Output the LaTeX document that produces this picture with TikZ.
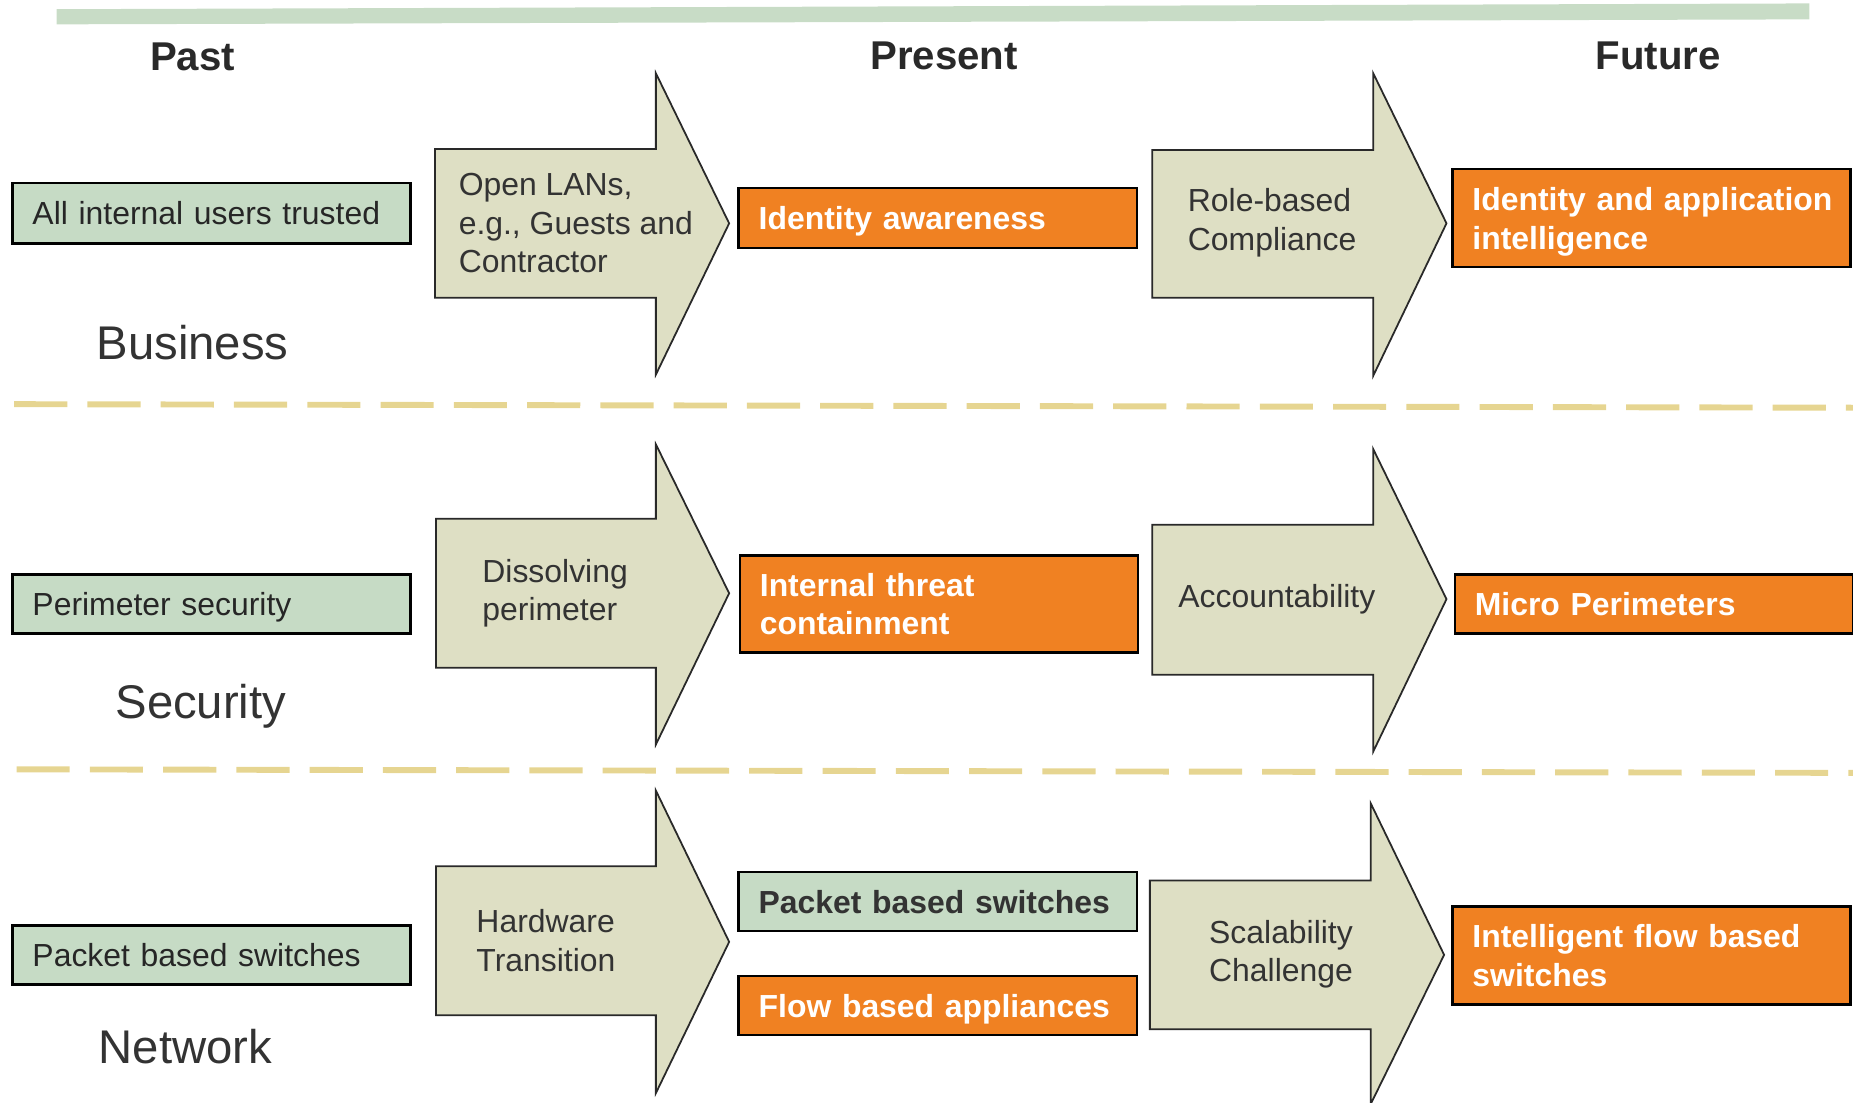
\documentclass[tikz,border=0pt]{standalone}
\usepackage{fontspec}
\setmainfont{Liberation Sans}
\hyphenpenalty=10000
\definecolor{barGreen}{HTML}{C8DCC6}
\definecolor{boxGreen}{HTML}{C6DBC5}
\definecolor{boxOrange}{HTML}{F08122}
\definecolor{arrowFill}{HTML}{DEDFC4}
\definecolor{dashYellow}{HTML}{E6D591}
\definecolor{inkGray}{HTML}{333333}
\begin{document}
\begin{tikzpicture}[x=1pt, y=-1pt,
  heading/.style={font=\fontsize{34}{40}\selectfont\bfseries, text=inkGray!80!black},
  area/.style={font=\fontsize{40}{46}\selectfont, text=inkGray},
  sepline/.style={dashYellow, line width=5pt, dash pattern=on 45pt off 17pt},
  bigarrow/.style={fill=arrowFill, draw=inkGray!80!black, line width=1.5pt, line join=miter},
  arrowtext/.style={anchor=west, inner sep=0pt, align=left, text=inkGray, font=\fontsize{27}{32.5}\selectfont},
  box/.style={draw=black, line width=2pt, text width=303pt, inner xsep=17pt, inner ysep=0pt, align=left, font=\fontsize{27}{32.5}\selectfont},
  oneline/.style={minimum height=#1, text depth=0pt},
  oldbox/.style={box, fill=boxGreen, text=black!85},
  newbox/.style={box, fill=boxOrange, text=white, font=\fontsize{27}{32.5}\selectfont\bfseries},
  keptbox/.style={box, fill=boxGreen, text=inkGray, font=\fontsize{27}{32.5}\selectfont\bfseries}]

\useasboundingbox (0,0) rectangle (1568,933);

\fill[barGreen] (48,7.8) -- (1531,2.9) -- (1531,16.4) -- (48,20.6) -- cycle;

\node[heading] (past) at (163,48) {Past};
\node[heading] (present) at (799,47) {Present};
\node[heading] (future) at (1403,47) {Future};

\node[area] (business) at (163,290) {Business};
\node[area] (security) at (170,598) {Security};
\node[area] (network) at (157,886) {Network};

\draw[sepline] (12,342) -- (1568,345);
\draw[sepline] (14,651) -- (1568,654);

\draw[bigarrow] (368,126) -- (555,126) -- (555,62) -- (617,189) -- (555,317) -- (555,252) -- (368,252) -- cycle;
\draw[bigarrow] (975,127) -- (1162,127) -- (1162,62) -- (1224,189) -- (1162,318) -- (1162,252) -- (975,252) -- cycle;
\draw[bigarrow] (369,439) -- (555,439) -- (555,376) -- (617,502) -- (555,630) -- (555,565) -- (369,565) -- cycle;
\draw[bigarrow] (975,444) -- (1162,444) -- (1162,380) -- (1224,507) -- (1162,636) -- (1162,571) -- (975,571) -- cycle;
\draw[bigarrow] (369,733) -- (555,733) -- (555,669) -- (617,797) -- (555,925) -- (555,859) -- (369,859) -- cycle;
\draw[bigarrow] (973,745) -- (1160,745) -- (1160,680) -- (1222,808) -- (1160,934) -- (1160,871) -- (973,871) -- cycle;

\node[arrowtext] (openlans) at (388,189) {Open LANs,\\e.g., Guests and\\Contractor};
\node[arrowtext] (rolebased) at (1005,188.5) {Role-based\\Compliance};
\node[arrowtext] (dissolving) at (408,502) {Dissolving\\perimeter};
\node[arrowtext] (account) at (997,507) {Accountability};
\node[arrowtext] (hardware) at (403,796) {Hardware\\Transition};
\node[arrowtext] (scalab) at (1023,807.5) {Scalability\\Challenge};

\node[oldbox, oneline=51pt] (trusted) at (179,180.5) {All internal users trusted};
\node[oldbox, oneline=50pt] (perim) at (179,511) {Perimeter security};
\node[oldbox, oneline=50pt] (pktpast) at (179,808) {Packet based switches};

\node[newbox, oneline=51pt] (identity) at (793.5,184.5) {Identity awareness};
\node[newbox, minimum height=82pt] (threat) at (794.5,511) {Internal threat\\containment};
\node[keptbox, oneline=50pt] (pktnow) at (793.5,763) {Packet based switches};
\node[newbox, oneline=50pt] (flow) at (793.5,851) {Flow based appliances};

\node[newbox, minimum height=83pt] (idapp) at (1397.5,184.5) {\mbox{\rule{0pt}{26pt}Identity and application}\\intelligence};
\node[newbox, oneline=50pt] (micro) at (1399.5,511) {Micro Perimeters};
\node[newbox, minimum height=83pt] (intflow) at (1397.5,808.5) {Intelligent flow based\\switches};

\end{tikzpicture}
\end{document}
